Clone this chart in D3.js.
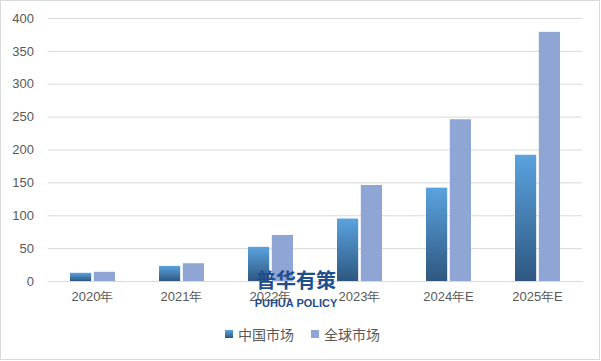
<!DOCTYPE html>
<html>
<head>
<meta charset="utf-8">
<script src="https://cdn.jsdelivr.net/npm/d3@7"></script>
<style>
    body { margin: 0; background: #fff; }
    svg { display: block; font-family: "Microsoft YaHei", "Noto Sans CJK SC", sans-serif; }
    .tick text { fill: #595959; font-size: 13px; }
    .legend-label { fill: #595959; font-size: 14px; }
</style>
</head>
<body>
<svg id="chart" width="601" height="361"></svg>
<script>
// data
const years = ["2020年", "2021年", "2022年", "2023年", "2024年E", "2025年E"];
const china = [12.5, 23, 52, 95, 142, 192];
const world = [14, 27, 70, 146, 246, 379];
const yTicks = [0, 50, 100, 150, 200, 250, 300, 350, 400];
const seriesNames = ["中国市场", "全球市场"];

const svg = d3.select("#chart");
const margin = { top: 18, right: 19, bottom: 80, left: 48 };
const width = 601 - margin.left - margin.right,
      height = 361 - margin.top - margin.bottom;

// outer frame
svg.append("rect")
    .attr("x", 0.5).attr("y", 0.5)
    .attr("width", 599).attr("height", 359)
    .attr("fill", "#fff")
    .attr("stroke", "#d9d9d9");

const defs = svg.append("defs");
const grad = defs.append("linearGradient")
    .attr("id", "china-grad")
    .attr("x1", 0).attr("y1", 0).attr("x2", 0).attr("y2", 1);
grad.append("stop").attr("offset", "0%").attr("stop-color", "#5ba3df");
grad.append("stop").attr("offset", "100%").attr("stop-color", "#2e5780");

const g = svg.append("g").attr("transform", `translate(${margin.left},${margin.top})`);

const x = d3.scaleBand().domain(years).range([0, width]);
const x1 = d3.scaleBand().domain([0, 1]).range([x.bandwidth() / 2 - 22.5, x.bandwidth() / 2 + 22.5]).paddingInner(0.11);
const y = d3.scaleLinear().domain([0, 400]).range([height, 0]);

// gridlines + y labels
const yAxis = g.append("g")
    .call(d3.axisLeft(y).tickValues(yTicks).tickSize(-width).tickPadding(14));
yAxis.select(".domain").remove();
yAxis.selectAll(".tick line").attr("stroke", "#d9d9d9");
yAxis.selectAll(".tick text").attr("x", -14);

// x axis
const xAxis = g.append("g")
    .attr("transform", `translate(0,${height})`)
    .call(d3.axisBottom(x).tickSize(0).tickPadding(11));
xAxis.select(".domain").attr("stroke", "#d9d9d9");

const fills = ["url(#china-grad)", "#8fa5d3"];
const series = [china, world];

const groups = g.selectAll("g.year-gp")
    .data(years)
    .enter()
    .append("g")
    .classed("year-gp", true)
    .attr("transform", d => `translate(${x(d)},0)`);

groups.selectAll("rect")
    .data((d, i) => series.map((s, k) => ({ k: k, v: s[i] })))
    .enter()
    .append("rect")
    .attr("x", d => x1(d.k))
    .attr("width", x1.bandwidth())
    .attr("y", d => y(d.v))
    .attr("height", d => height - y(d.v))
    .attr("fill", d => fills[d.k]);

// watermark
svg.append("text")
    .attr("x", 296).attr("y", 288)
    .attr("text-anchor", "middle")
    .attr("fill", "#1f4e8c")
    .style("font-size", "20px")
    .style("font-weight", "bold")
    .text("普华有策");
svg.append("text")
    .attr("x", 296).attr("y", 307)
    .attr("text-anchor", "middle")
    .attr("fill", "#1f4e8c")
    .style("font-size", "11px")
    .style("font-weight", "bold")
    .style("font-family", "Arial, 'Liberation Sans', sans-serif")
    .text("PUHUA POLICY");

// legend
const legendX = [225, 311];
const lg = svg.selectAll("g.legend")
    .data(seriesNames)
    .enter()
    .append("g")
    .classed("legend", true)
    .attr("transform", (d, i) => `translate(${legendX[i]},335)`);
lg.append("rect")
    .attr("x", 0).attr("y", -5)
    .attr("width", 8).attr("height", 8)
    .attr("fill", (d, i) => fills[i]);
lg.append("text")
    .classed("legend-label", true)
    .attr("x", 13).attr("y", 5)
    .text(d => d);
</script>
</body>
</html>
